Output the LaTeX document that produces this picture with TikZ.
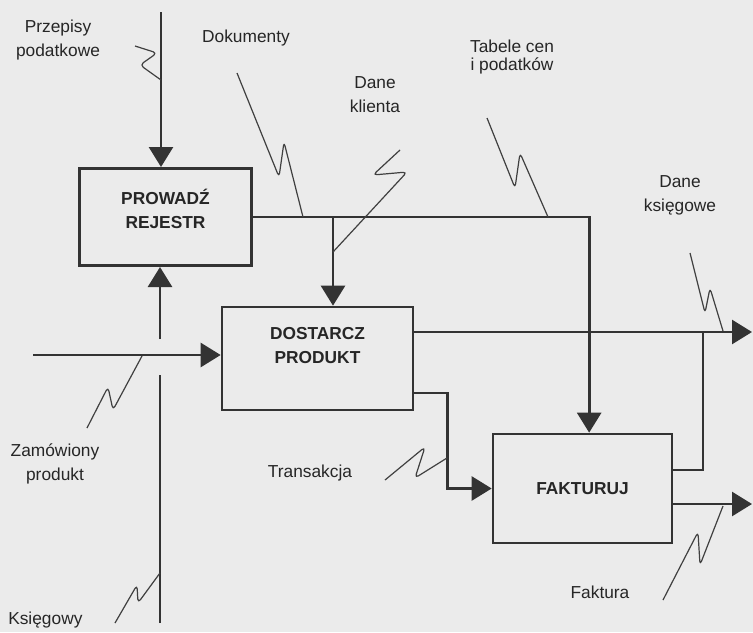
\documentclass[tikz,border=0pt]{standalone}
\usepackage{fontspec}
\setmainfont{Liberation Sans}
\usetikzlibrary{arrows.meta,positioning,calc}
\tikzset{proc/.style={draw=black!80,line width=2pt,inner sep=0pt},
 ptxt/.style={align=center,font=\fontsize{13}{18}\selectfont\bfseries,text=black!85},
 lbl/.style={align=center,inner sep=0pt,text=black!85},
 flow/.style={-{Triangle[length=15pt,width=18pt]},line width=2pt,draw=black!80},
 wire/.style={line width=2pt,draw=black!80},
 squig/.style={line width=0.9pt,draw=black!75,line join=round,rounded corners=3pt}}

\begin{document}
\begin{tikzpicture}[x=0.75pt,y=-0.75pt,font=\fontsize{13}{18}\selectfont]
\fill[black!8](0,0)rectangle(753,632);
\useasboundingbox(0,0)rectangle(753,632);
% activities
\node[proc,minimum width=129pt,minimum height=73pt](rejestr) at (165.5,217){};
\node[ptxt](rejestrTxt) at ([yshift=6pt]rejestr.center){PROWADŹ\\REJESTR};
\node[proc,minimum width=143.25pt,minimum height=77.25pt](dostarcz) at (317.5,358.5){};
\node[ptxt](dostarczTxt) at ([yshift=10pt]dostarcz.center){DOSTARCZ\\PRODUKT};
\node[proc,minimum width=134.25pt,minimum height=81.75pt](fakturuj) at (582.5,488.5){};
\node[ptxt](fakturujTxt) at (fakturuj.center){FAKTURUJ};
% labels
\node[lbl](przepisy) at (58,40){Przepisy\\podatkowe};
\node[lbl](dokumenty) at (246,38){Dokumenty};
\node[lbl](daneKl) at (375,95){Dane\\klienta};
\node[lbl,font=\fontsize{13}{13}\selectfont](tabele) at (512,57){Tabele cen\\i podatków};
\node[lbl](daneKs) at (680,195){Dane\\księgowe};
\node[lbl](zamowiony) at (55,464){Zamówiony\\produkt};
\node[lbl](transakcja) at (310,473){Transakcja};
\node[lbl,anchor=base west](ksiegowy) at (8,624){Księgowy};
\node[lbl](faktura) at (600,592){Faktura};
% free ends
\coordinate(przIn) at (161,12);
\coordinate(zamIn) at (33,355);
\coordinate(ksIn) at (160,623);
\coordinate(ksGapLo) at (160,375);
\coordinate(ksGapHi) at (160,339);
\coordinate(dkJ) at (333,217);
\coordinate(ksgJ) at (703,332);
\coordinate(ksgOut) at (752,332);
\coordinate(fakOut) at (752,504);
% arrows
\draw[flow](przIn)--(przIn|-rejestr.north);
\draw[flow](zamIn)--(zamIn-|dostarcz.west);
\draw[wire](ksIn)--(ksGapLo);
\draw[flow](ksGapHi)--(ksGapHi|-rejestr.south);
\draw[flow](rejestr.east)-|([xshift=5pt]fakturuj.north);
\draw[flow](dkJ)--(dkJ|-dostarcz.north);
\draw[flow]($(dostarcz.east)+(0,-26.5)$)--(ksgOut);
\draw[flow]($(dostarcz.east)+(0,34.5)$)--++(33,0)|-(fakturuj.west);
\draw[wire]($(fakturuj.east)+(0,-18.5)$)-|(ksgJ);
\draw[flow]($(fakturuj.east)+(0,15.5)$)--(fakOut);
% squiggles
\coordinate(sqPrz) at (161,80);
\coordinate(sqDok) at (303,217);
\coordinate(sqKl) at (333,252);
\coordinate(sqTab) at (548,217);
\coordinate(sqKsg) at (723,331);
\coordinate(sqZam) at (142,356);
\coordinate(sqKs) at (160,573);
\coordinate(sqTr) at (447,458);
\coordinate(sqFak) at (723,506);
\draw[squig](sqPrz)--(140,65)--(157,53)--(135,46);
\draw[squig](sqDok)--(284,142)--(279,177)--(237,73);
\draw[squig](sqKl)--(407,172)--(373,175)--(400,150);
\draw[squig](sqTab)--(520,153)--(515,188)--(487,118);
\draw[squig](sqKsg)--(710,288)--(705,313)--(690,253);
\draw[squig](sqZam)--(113,410)--(108,387)--(87,428);
\draw[squig](sqKs)--(138,603)--(137,585)--(115,623);
\draw[squig](sqTr)--(415,478)--(425,447)--(385,480);
\draw[squig](sqFak)--(700,565)--(698,532)--(663,600);
\end{tikzpicture}
\end{document}
